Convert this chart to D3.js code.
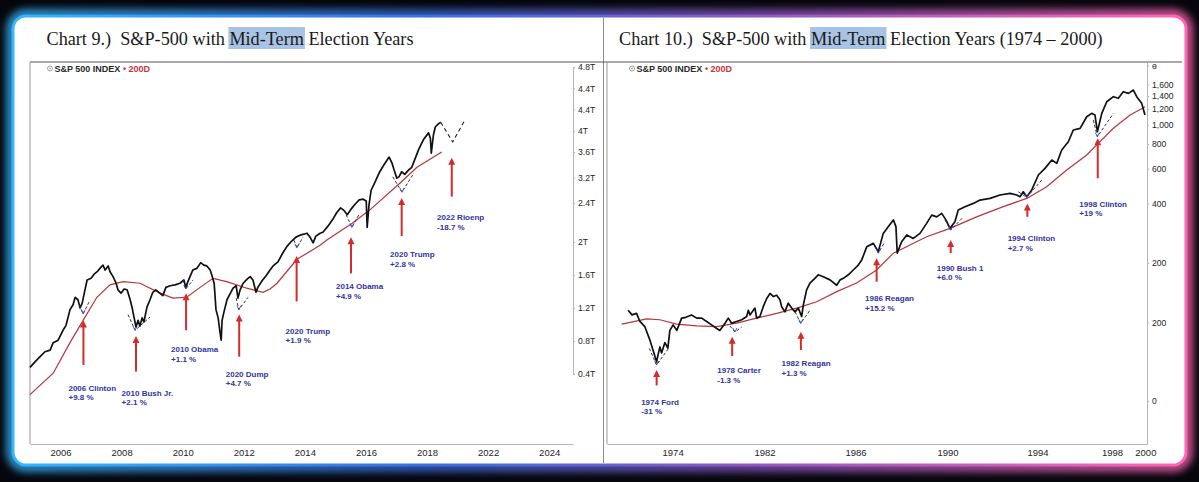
<!DOCTYPE html>
<html>
<head>
<meta charset="utf-8">
<script src="https://cdn.jsdelivr.net/npm/d3@7"></script>
<style>
body { margin: 0; background: #05060b; }
svg { display: block; }
</style>
</head>
<body>
<svg></svg>
<script>
var width = 1199;
var height = 482;

// ---- Chart 9 data (year, index level in "T") ----
var spx9 = [[2005.00,0.48],[2005.17,0.55],[2005.33,0.61],[2005.49,0.67],[2005.66,0.69],[2005.76,0.78],[2005.92,0.81],[2006.08,0.93],[2006.18,0.99],[2006.31,1.18],[2006.41,1.24],[2006.48,1.33],[2006.57,1.30],[2006.64,1.20],[2006.71,1.26],[2006.80,1.42],[2006.87,1.54],[2007.00,1.56],[2007.10,1.61],[2007.20,1.64],[2007.29,1.68],[2007.39,1.72],[2007.46,1.66],[2007.56,1.71],[2007.62,1.64],[2007.72,1.58],[2007.82,1.50],[2007.88,1.42],[2007.98,1.38],[2008.08,1.43],[2008.18,1.42],[2008.28,1.30],[2008.34,1.21],[2008.41,1.08],[2008.47,0.97],[2008.54,1.05],[2008.60,0.98],[2008.67,1.08],[2008.73,1.03],[2008.83,1.21],[2008.93,1.30],[2009.02,1.39],[2009.12,1.42],[2009.25,1.38],[2009.35,1.35],[2009.45,1.45],[2009.59,1.47],[2009.75,1.48],[2009.91,1.50],[2010.04,1.54],[2010.10,1.45],[2010.17,1.52],[2010.33,1.66],[2010.46,1.68],[2010.59,1.75],[2010.69,1.72],[2010.79,1.71],[2010.90,1.66],[2010.96,1.59],[2011.03,1.50],[2011.09,1.18],[2011.16,1.08],[2011.22,0.91],[2011.26,0.81],[2011.29,1.05],[2011.35,1.15],[2011.45,1.30],[2011.55,1.37],[2011.65,1.44],[2011.75,1.47],[2011.81,1.32],[2011.88,1.42],[2011.98,1.50],[2012.11,1.55],[2012.21,1.58],[2012.30,1.54],[2012.40,1.39],[2012.46,1.45],[2012.60,1.53],[2012.73,1.59],[2012.86,1.66],[2012.96,1.71],[2013.12,1.76],[2013.28,1.87],[2013.42,1.95],[2013.57,2.01],[2013.71,2.05],[2013.84,2.07],[2013.97,2.08],[2014.07,2.09],[2014.17,2.05],[2014.27,1.99],[2014.36,2.06],[2014.50,2.09],[2014.59,2.10],[2014.75,2.16],[2014.91,2.23],[2015.04,2.30],[2015.17,2.35],[2015.26,2.33],[2015.39,2.28],[2015.52,2.34],[2015.65,2.39],[2015.78,2.45],[2015.91,2.46],[2016.01,2.43],[2016.04,2.15],[2016.10,2.38],[2016.17,2.60],[2016.30,2.73],[2016.43,2.87],[2016.59,3.00],[2016.76,3.12],[2016.85,3.03],[2016.92,2.92],[2017.01,2.79],[2017.08,2.81],[2017.17,2.89],[2017.27,2.85],[2017.40,2.92],[2017.50,2.96],[2017.63,3.12],[2017.72,3.24],[2017.88,3.43],[2018.05,3.56],[2018.11,3.46],[2018.14,3.18],[2018.21,3.52],[2018.27,3.67],[2018.37,3.73],[2018.45,3.76]];
var ma9 = [[2005.00,0.15],[2005.76,0.41],[2006.31,0.78],[2006.74,1.05],[2007.19,1.33],[2007.62,1.48],[2008.05,1.52],[2008.60,1.50],[2009.26,1.38],[2009.68,1.32],[2010.13,1.33],[2010.57,1.45],[2010.99,1.56],[2011.44,1.52],[2012.10,1.44],[2012.63,1.39],[2012.86,1.43],[2013.09,1.50],[2013.74,1.79],[2014.50,1.96],[2014.72,2.02],[2015.54,2.19],[2016.13,2.33],[2017.11,2.71],[2017.67,2.96],[2018.48,3.20]];
var path9 = [[2018.45,3.76],[2018.84,3.39],[2019.24,3.80]];
var dips9 = [
	[[2006.61,1.24],[2006.74,1.13],[2006.93,1.27]],
	[[2008.21,1.12],[2008.44,0.93],[2008.93,1.09]],
	[[2010.01,1.54],[2010.10,1.43],[2010.34,1.54]],
	[[2011.75,1.32],[2011.84,1.18],[2012.14,1.33]],
	[[2013.64,2.02],[2013.74,1.93],[2013.94,2.05]],
	[[2015.35,2.28],[2015.54,2.15],[2015.77,2.28]],
	[[2016.88,2.81],[2017.18,2.57],[2017.57,2.87]]
];
var notes9 = [
	{year: 2006.75, tip: 1.05, tail: 0.51, labelYear: 2006.26, labelValue: 0.23, name: '2006 Clinton', pct: '+9.8 %'},
	{year: 2008.47, tip: 0.86, tail: 0.43, labelYear: 2008.00, labelValue: 0.17, name: '2010 Bush Jr.', pct: '+2.1 %'},
	{year: 2010.11, tip: 1.38, tail: 0.93, labelYear: 2009.62, labelValue: 0.70, name: '2010 Obama', pct: '+1.1 %'},
	{year: 2011.85, tip: 1.12, tail: 0.61, labelYear: 2011.41, labelValue: 0.40, name: '2020 Dump', pct: '+4.7 %'},
	{year: 2013.73, tip: 1.83, tail: 1.28, labelYear: 2013.37, labelValue: 0.92, name: '2020 Trump', pct: '+1.9 %'},
	{year: 2015.51, tip: 2.05, tail: 1.62, labelYear: 2015.02, labelValue: 1.46, name: '2014 Obama', pct: '+4.9 %'},
	{year: 2017.17, tip: 2.48, tail: 2.06, labelYear: 2016.79, labelValue: 1.85, name: '2020 Trump', pct: '+2.8 %'},
	{year: 2018.81, tip: 3.11, tail: 2.50, labelYear: 2018.33, labelValue: 2.25, name: '2022 Rioenp', pct: '-18.7 %'}
];
var x9Ticks = [2006, 2008, 2010, 2012, 2014, 2016, 2018, 2020, 2022];
var x9Labels = ['2006', '2008', '2010', '2012', '2014', '2016', '2018', '2022', '2024'];
var y9Ticks = [0.4, 0.8, 1.2, 1.6, 2.0, 2.4, 2.8, 3.2, 3.6, 4.0, 4.4, 4.8];
var y9Labels = ['0.4T', '0.8T', '1.2T', '1.6T', '2T', '2.4T', '3.2T', '3.6T', '4T', '4.4T', '4.4T', '4.8T'];

// ---- Chart 10 data (year, S&P 500 level) ----
var spx10 = [[1973.25,115],[1973.46,109],[1973.71,111],[1973.89,101],[1974.16,95],[1974.44,81],[1974.61,72],[1974.80,63],[1974.87,68],[1974.98,75],[1975.07,70],[1975.25,79],[1975.41,74],[1975.52,91],[1975.70,97],[1975.90,91],[1976.16,105],[1976.39,106],[1976.70,109],[1976.98,105],[1977.25,105],[1977.52,101],[1977.79,97],[1978.07,93],[1978.24,91],[1978.52,99],[1978.70,105],[1978.88,99],[1979.15,101],[1979.43,103],[1979.70,107],[1979.79,115],[1979.88,109],[1980.06,115],[1980.15,118],[1980.24,105],[1980.42,107],[1980.60,120],[1980.79,132],[1980.97,140],[1981.15,135],[1981.33,137],[1981.51,130],[1981.60,120],[1981.78,113],[1981.96,125],[1982.15,118],[1982.33,113],[1982.51,118],[1982.69,107],[1982.78,122],[1982.96,146],[1983.14,158],[1983.41,167],[1983.59,174],[1983.87,170],[1984.23,164],[1984.60,154],[1984.78,164],[1984.96,167],[1985.23,174],[1985.50,184],[1985.77,195],[1985.96,207],[1986.23,241],[1986.59,251],[1986.86,228],[1987.13,282],[1987.40,305],[1987.68,330],[1987.82,305],[1987.89,224],[1988.13,256],[1988.41,277],[1988.76,266],[1989.13,282],[1989.49,317],[1989.77,349],[1990.04,342],[1990.31,356],[1990.54,330],[1990.76,299],[1991.03,323],[1991.21,370],[1991.58,385],[1992.03,400],[1992.39,416],[1992.94,424],[1993.48,441],[1994.03,450],[1994.39,441],[1994.57,432],[1994.75,458],[1994.94,432],[1995.21,468],[1995.57,557],[1995.93,602],[1996.30,663],[1996.57,638],[1996.84,745],[1997.20,821],[1997.47,941],[1997.84,960],[1998.20,1099],[1998.47,1143],[1998.65,1121],[1998.78,923],[1999.02,1143],[1999.29,1309],[1999.65,1388],[1999.92,1362],[2000.19,1471],[2000.47,1443],[2000.74,1500],[2000.92,1388],[2001.19,1285],[2001.37,1121]];
var ma10 = [[1972.90,98],[1974.26,104],[1974.98,103],[1975.89,98],[1976.98,96],[1978.07,95],[1979.15,99],[1980.24,105],[1981.33,111],[1982.42,118],[1983.51,127],[1984.60,143],[1985.68,158],[1986.77,184],[1987.68,224],[1989.49,271],[1990.76,299],[1992.21,342],[1993.66,385],[1994.94,424],[1996.02,486],[1997.11,590],[1998.20,703],[1998.83,806],[1999.65,960],[2000.56,1121],[2001.38,1234]];
var dips10 = [
	[[1974.40,73.8],[1974.80,60.8],[1975.49,74.7]],
	[[1978.79,95.8],[1979.06,89.3],[1979.43,94.6]],
	[[1982.33,113],[1982.64,98.8],[1983.14,115]],
	[[1986.68,241],[1986.86,224],[1987.22,256]],
	[[1990.49,330],[1990.80,293],[1991.49,342]],
	[[1994.48,458],[1994.94,429],[1995.75,525]],
	[[1998.56,1057],[1998.78,870],[1999.65,1143]]
];
var notes10 = [
	{year: 1974.80, tip: 57.3, tail: 47.9, labelYear: 1973.96, labelValue: 39.6, name: '1974 Ford', pct: '-31 %'},
	{year: 1978.91, tip: 84.5, tail: 67.5, labelYear: 1978.10, labelValue: 56.9, name: '1978 Carter', pct: '-1.3 %'},
	{year: 1982.65, tip: 89.6, tail: 72.4, labelYear: 1981.60, labelValue: 62.0, name: '1982 Reagan', pct: '+1.3 %'},
	{year: 1986.77, tip: 210.9, tail: 160.5, labelYear: 1986.14, labelValue: 132.2, name: '1986 Reagan', pct: '+15.2 %'},
	{year: 1990.80, tip: 261, tail: 224, labelYear: 1990.04, labelValue: 189, name: '1990 Bush 1', pct: '+6.0 %'},
	{year: 1994.97, tip: 400, tail: 342, labelYear: 1993.90, labelValue: 266, name: '1994 Clinton', pct: '+2.7 %'},
	{year: 1998.80, tip: 854, tail: 536, labelYear: 1997.80, labelValue: 397, name: '1998 Clinton', pct: '+19 %'}
];
var x10Ticks = [1975.67, 1980.67, 1985.62, 1990.63, 1995.52, 1999.58, 2001.39];
var x10Labels = ['1974', '1982', '1986', '1990', '1994', '1998', '2000'];
var y10Ticks = [2000, 1600, 1400, 1200, 1000, 800, 600, 400, 200, 100, 40];
var y10Labels = ['\u0275', '1,600', '1,400', '1,200', '1,000', '800', '600', '400', '200', '200', '0'];

var plotTop = 62;
var plotBottom = 444;

var svg = d3.select('svg')
	.attr('width', width)
	.attr('height', height);

// ---- frame ----
var defs = svg.append('defs');
var grad = defs.append('linearGradient')
	.attr('id', 'edge')
	.attr('x1', 0).attr('x2', 1).attr('y1', 0).attr('y2', 0);
[['0%', '#36b6ff'], ['35%', '#3a6ee0'], ['62%', '#8a58c6'], ['100%', '#ff66b4']].forEach(function(s) {
	grad.append('stop').attr('offset', s[0]).attr('stop-color', s[1]);
});
defs.append('filter')
	.attr('id', 'glow')
	.attr('x', '-5%').attr('y', '-10%').attr('width', '110%').attr('height', '120%')
	.append('feGaussianBlur')
	.attr('stdDeviation', 4);

svg.append('rect')
	.attr('width', width)
	.attr('height', height)
	.attr('fill', '#05060b');

svg.append('rect')
	.attr('x', 11).attr('y', 14)
	.attr('width', 1177).attr('height', 453)
	.attr('rx', 15)
	.attr('fill', 'none')
	.attr('stroke', 'url(#edge)')
	.attr('stroke-width', 8)
	.attr('filter', 'url(#glow)');

svg.append('rect')
	.attr('x', 13).attr('y', 16)
	.attr('width', 1173).attr('height', 449)
	.attr('rx', 13)
	.attr('fill', '#fff')
	.attr('stroke', 'url(#edge)')
	.attr('stroke-width', 3);

svg.append('line')
	.attr('x1', 603.5).attr('x2', 603.5)
	.attr('y1', 18).attr('y2', 463)
	.attr('stroke', '#8c8c8c');

svg.append('line')
	.attr('x1', 30).attr('x2', 1182)
	.attr('y1', plotTop).attr('y2', plotTop)
	.attr('stroke', '#555')
	.attr('stroke-width', 1.2);

function title(x, pre, mark, post) {
	var t = svg.append('text')
		.attr('x', x)
		.attr('y', 45)
		.style('white-space', 'pre')
		.attr('font-family', 'Liberation Serif, serif')
		.attr('font-size', 18.2)
		.attr('fill', '#1a1a1a')
		.text(pre + mark + post);
	var node = t.node();
	var x0 = x + node.getSubStringLength(0, pre.length);
	var w = node.getSubStringLength(pre.length, mark.length);
	svg.insert('rect', function() { return node; })
		.attr('x', x0 - 1)
		.attr('y', 27)
		.attr('width', w + 2)
		.attr('height', 22)
		.attr('fill', '#a8c3e4');
}

title(46.5, 'Chart 9.)  S&P-500 with ', 'Mid-Term', ' Election Years');
title(619, 'Chart 10.)  S&P-500 with ', 'Mid-Term', ' Election Years (1974 \u2013 2000)');

function legend(x) {
	var g = svg.append('g').attr('transform', `translate(${x},68.5)`);
	g.append('circle').attr('r', 2.5).attr('fill', 'none').attr('stroke', '#888').attr('stroke-width', 0.8);
	g.append('circle').attr('r', 0.8).attr('fill', '#888');
	var t = g.append('text')
		.attr('x', 4.5)
		.attr('dy', '0.35em')
		.attr('font-family', 'Liberation Sans, Arial, sans-serif')
		.attr('font-size', 9)
		.attr('font-weight', 'bold')
		.attr('fill', '#2a2a2a');
	t.append('tspan').text('S&P 500 INDEX ');
	t.append('tspan').attr('fill', '#c8323a').text('\u2022 200D');
}

legend(50);
legend(632);

function drawPanel(p) {
	var g = svg.append('g');
	var x0 = p.x.range()[0];
	var x1 = p.x.range()[1];

	g.append('line')
		.attr('x1', x0).attr('x2', x0)
		.attr('y1', plotTop).attr('y2', plotBottom)
		.attr('stroke', '#999');

	var xAxis = d3.axisBottom(p.x)
		.tickValues(p.xTicks)
		.tickFormat(function(d, i) { return p.xLabels[i]; })
		.tickSize(0)
		.tickSizeOuter(0)
		.tickPadding(5);

	var yAxis = d3.axisRight(p.y)
		.tickValues(p.yTicks)
		.tickFormat(function(d, i) { return p.yLabels[i]; })
		.tickSize(2)
		.tickSizeOuter(0)
		.tickPadding(3);

	var xg = g.append('g')
		.attr('transform', `translate(0,${plotBottom})`)
		.call(xAxis);
	var yg = g.append('g')
		.attr('transform', `translate(${x1},0)`)
		.call(yAxis);

	[xg, yg].forEach(function(a) {
		a.select('.domain').attr('stroke', '#b5b5b5');
		a.selectAll('.tick line').attr('stroke', '#b5b5b5');
		a.selectAll('text')
			.attr('font-family', 'Liberation Sans, Arial, sans-serif')
			.attr('fill', '#1e1e1e');
	});
	xg.selectAll('text').attr('font-size', 9.5);
	yg.selectAll('text').attr('font-size', 8.6);

	var line = d3.line()
		.x(function(d) { return p.x(d[0]); })
		.y(function(d) { return p.y(d[1]); });

	g.append('path')
		.attr('d', line(p.ma))
		.attr('fill', 'none')
		.attr('stroke', '#b7353a')
		.attr('stroke-width', 1.2);

	g.append('path')
		.attr('d', line(p.spx))
		.attr('fill', 'none')
		.attr('stroke', '#111')
		.attr('stroke-width', 1.7)
		.attr('stroke-linejoin', 'round');

	if (p.path) {
		g.append('path')
			.attr('d', line(p.path))
			.attr('fill', 'none')
			.attr('stroke', '#222')
			.attr('stroke-width', 1.1)
			.attr('stroke-dasharray', '4,3');
	}

	p.dips.forEach(function(d) {
		g.append('path')
			.attr('d', line(d))
			.attr('fill', 'none')
			.attr('stroke', '#33333f')
			.attr('stroke-width', 1)
			.attr('stroke-dasharray', '3,2');
		var vx = p.x(d[1][0]);
		var vy = p.y(d[1][1]);
		g.append('path')
			.attr('d', `M${vx - 2},${vy - 4}L${vx},${vy}L${vx + 2},${vy - 4}`)
			.attr('fill', 'none')
			.attr('stroke', '#3447c0')
			.attr('stroke-width', 0.9);
	});

	p.notes.forEach(function(n) {
		var ax = p.x(n.year);
		var tipY = p.y(n.tip);
		var tailY = p.y(n.tail);
		g.append('line')
			.attr('x1', ax).attr('x2', ax)
			.attr('y1', tipY + 5).attr('y2', tailY)
			.attr('stroke', '#d42b2e')
			.attr('stroke-width', 2);
		g.append('path')
			.attr('d', `M${ax},${tipY}L${ax - 3.5},${tipY + 7}L${ax + 3.5},${tipY + 7}Z`)
			.attr('fill', '#d42b2e');
		var lx = p.x(n.labelYear);
		var t = g.append('text')
			.attr('x', lx)
			.attr('y', p.y(n.labelValue))
			.attr('dy', '0.35em')
			.attr('font-family', 'Liberation Sans, Arial, sans-serif')
			.attr('font-size', 8)
			.attr('font-weight', 'bold')
			.attr('fill', '#33349c');
		t.append('tspan').text(n.name);
		t.append('tspan').attr('x', lx).attr('dy', 9.5).text(n.pct);
	});
}

var x9 = d3.scaleLinear().domain([2005.0, 2022.78]).range([30, 573]);
var y9 = d3.scaleLinear()
	.domain([0.4, 2.0, 2.4, 3.2, 4.8])
	.range([plotTop + 312, plotTop + 180, plotTop + 141, plotTop + 90, plotTop + 5]);

drawPanel({
	x: x9, y: y9,
	spx: spx9, ma: ma9, path: path9, dips: dips9, notes: notes9,
	xTicks: x9Ticks, xLabels: x9Labels,
	yTicks: y9Ticks, yLabels: y9Labels
});

var x10 = d3.scaleLinear().domain([1972.1, 2001.48]).range([607, 1147]);
var y10 = d3.scaleLog().domain([24.2, 2080]).range([plotBottom, plotTop]);

drawPanel({
	x: x10, y: y10,
	spx: spx10, ma: ma10, path: null, dips: dips10, notes: notes10,
	xTicks: x10Ticks, xLabels: x10Labels,
	yTicks: y10Ticks, yLabels: y10Labels
});
</script>
</body>
</html>
